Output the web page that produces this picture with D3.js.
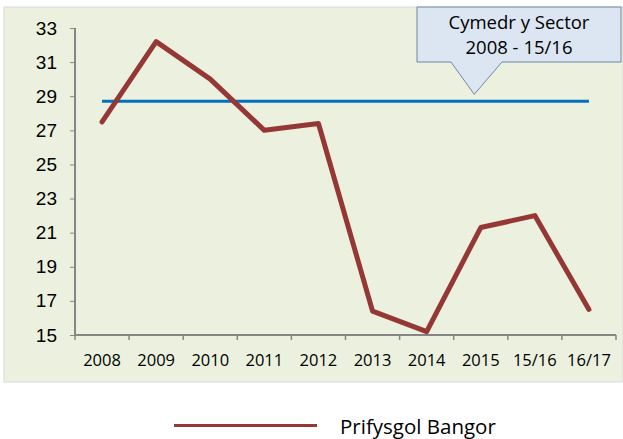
<!DOCTYPE html>
<html>
<head>
<meta charset="utf-8">
<script src="https://cdn.jsdelivr.net/npm/d3@7"></script>
<style>
  body { margin: 0; background: #fff; }
  svg { display: block; font-family: "Open Sans", Lato, sans-serif; }
</style>
</head>
<body>
<div id="chart"></div>
<script>
const years = ["2008", "2009", "2010", "2011", "2012", "2013", "2014", "2015", "15/16", "16/17"];
const bangor = [27.5, 32.2, 30.0, 27.0, 27.4, 16.4, 15.2, 21.3, 22.0, 16.5];
const sectorAvg = 28.7;
const yTicks = [15, 17, 19, 21, 23, 25, 27, 29, 31, 33];
const seriesName = "Prifysgol Bangor";
const calloutLines = ["Cymedr y Sector", "2008 - 15/16"];

let svgWidth = 623, svgHeight = 439;
let margin = {top: 28, right: 7, bottom: 104, left: 75};
let width = svgWidth - margin.left - margin.right,
    height = svgHeight - margin.top - margin.bottom;

let svg = d3.select("#chart").append("svg")
    .attr("width", svgWidth)
    .attr("height", svgHeight);

// chart area background
svg.append("rect")
    .attr("x", 4).attr("y", 7)
    .attr("width", 619).attr("height", 375)
    .attr("fill", "#ebf1de")
    .attr("stroke", "#d9d9d9");

let g = svg.append("g")
    .attr("transform", "translate(" + margin.left + "," + margin.top + ")");

let x = d3.scaleBand().domain(years).range([0, width]);
let y = d3.scaleLinear().domain([15, 33]).range([height, 0]);

// axes
let yAxis = g.append("g")
    .call(d3.axisLeft(y).tickValues(yTicks).tickSize(5).tickPadding(13));
yAxis.selectAll("line").attr("stroke", "#868686");
yAxis.select(".domain").attr("stroke", "#868686").attr("stroke-width", 2).attr("d", "M0,0V" + height);
yAxis.selectAll("text").attr("font-size", "19px").attr("fill", "#000");

let xAxis = g.append("g")
    .attr("transform", "translate(0," + height + ")");
xAxis.append("line")
    .attr("x1", 0).attr("x2", width)
    .attr("stroke", "#868686").attr("stroke-width", 2);
xAxis.selectAll(".tk")
    .data(years.concat([null]))
    .enter().append("line")
    .attr("x1", (d, i) => i * x.bandwidth())
    .attr("x2", (d, i) => i * x.bandwidth())
    .attr("y1", 0).attr("y2", 5)
    .attr("stroke", "#868686").attr("stroke-width", 1.5);
xAxis.selectAll("text")
    .data(years)
    .enter().append("text")
    .attr("x", d => x(d) + x.bandwidth() / 2)
    .attr("y", 31)
    .attr("text-anchor", "middle")
    .attr("font-size", "16.5px")
    .text(d => d);

// sector average line
g.append("line")
    .attr("x1", x(years[0]) + x.bandwidth() / 2)
    .attr("x2", x(years[years.length - 1]) + x.bandwidth() / 2)
    .attr("y1", y(sectorAvg)).attr("y2", y(sectorAvg))
    .attr("stroke", "#0070c0").attr("stroke-width", 3);

// Bangor line
let line = d3.line()
    .x((d, i) => x(years[i]) + x.bandwidth() / 2)
    .y(d => y(d));
g.append("path")
    .datum(bangor)
    .attr("d", line)
    .attr("fill", "none")
    .attr("stroke", "#953735")
    .attr("stroke-width", 5)
    .attr("stroke-linejoin", "round")
    .attr("stroke-linecap", "round");

// callout
let tipX = x("2015") + x.bandwidth() * 0.38;
let tipY = y(sectorAvg) - 7;
let bx0 = 417, bx1 = 621, by0 = 7, by1 = 62;
svg.append("path")
    .attr("d", "M" + bx0 + "," + by0 + "H" + bx1 + "V" + by1 + "H502L" + (margin.left + tipX) + "," + (margin.top + tipY) + "L451," + by1 + "H" + bx0 + "Z")
    .attr("fill", "#dce6f2")
    .attr("stroke", "#6f86a6")
    .attr("stroke-width", 1);
svg.selectAll(".callout")
    .data(calloutLines)
    .enter().append("text")
    .attr("x", (bx0 + bx1) / 2)
    .attr("y", (d, i) => 29 + i * 25)
    .attr("text-anchor", "middle")
    .attr("font-size", "18.5px")
    .text(d => d);

// legend
svg.append("line")
    .attr("x1", 174).attr("x2", 317)
    .attr("y1", 425.5).attr("y2", 425.5)
    .attr("stroke", "#953735").attr("stroke-width", 3);
svg.append("text")
    .attr("x", 340).attr("y", 434)
    .attr("font-size", "20.5px")
    .text(seriesName);
</script>
</body>
</html>
